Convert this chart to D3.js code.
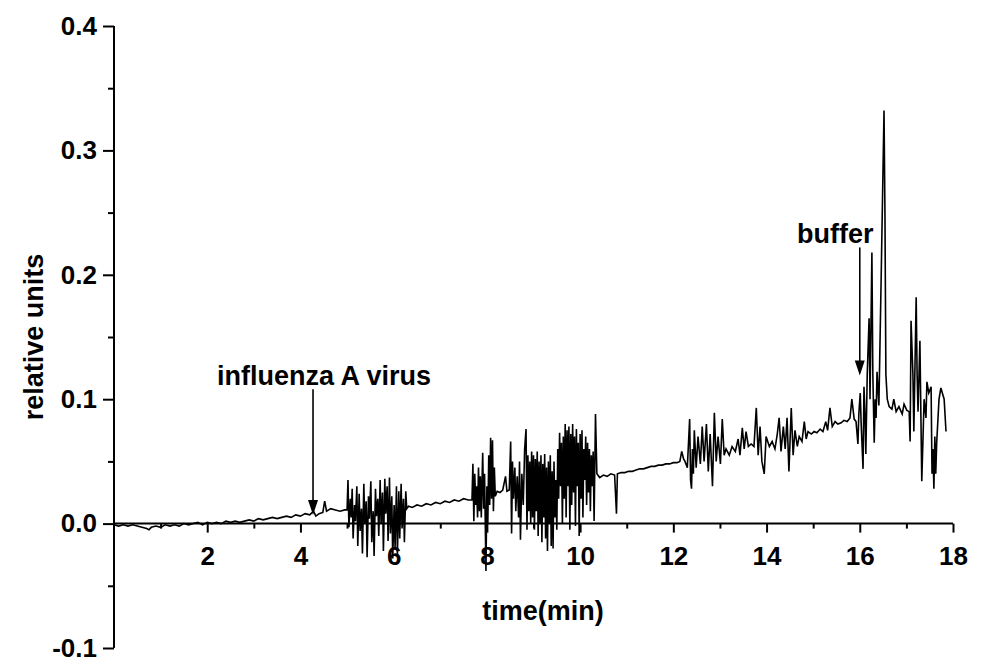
<!DOCTYPE html>
<html>
<head>
<meta charset="utf-8">
<script src="https://cdn.jsdelivr.net/npm/d3@7"></script>
<style>
  html, body { margin: 0; padding: 0; background: #fff; }
  svg { display: block; }
  text { font-family: "Liberation Sans", Arial, sans-serif; font-weight: bold; fill: #000; }
</style>
</head>
<body>
<svg id="chart" width="981" height="666"></svg>
<script>
// ---------------- data (time in min, relative units) ----------------
const baselineA = [
  [0.00,-0.001],[0.10,-0.002],[0.20,-0.001],[0.30,-0.002],[0.40,-0.001],[0.50,-0.002],[0.60,-0.003],
  [0.70,-0.004],[0.75,-0.005],[0.80,-0.003],[0.90,-0.002],[1.00,-0.003],[1.10,-0.001],[1.20,-0.002],
  [1.30,-0.001],[1.40,-0.002],[1.50,0.000],[1.60,-0.001],[1.70,0.000],[1.80,0.001],[1.90,-0.001],
  [2.00,0.001],[2.10,0.000],[2.20,0.001],[2.30,0.000],[2.40,0.002],[2.50,0.001],[2.60,0.002],
  [2.70,0.001],[2.80,0.002],[2.90,0.003],[3.00,0.002],[3.10,0.004],[3.20,0.003],[3.30,0.004],
  [3.40,0.005],[3.50,0.004],[3.60,0.005],[3.70,0.006],[3.80,0.005],[3.90,0.007],[4.00,0.006],
  [4.10,0.008],[4.20,0.007],[4.28,0.010],[4.33,0.006],[4.40,0.008],[4.48,0.009],[4.52,0.018],
  [4.56,0.010],[4.65,0.012],[4.75,0.011],[4.85,0.010],[4.95,0.011]
];
const burst1 = [
  [5.00,0.011],[5.02,0.035],[5.04,-0.003],[5.07,0.020],[5.09,0.005],[5.11,0.028],[5.13,-0.012],
  [5.16,0.015],[5.18,0.002],[5.21,0.030],[5.23,-0.018],[5.26,0.024],[5.28,-0.006],[5.31,0.012],
  [5.33,-0.024],[5.36,0.032],[5.38,0.000],[5.41,0.018],[5.43,-0.027],[5.46,0.022],[5.48,0.004],
  [5.51,0.034],[5.53,-0.015],[5.56,0.010],[5.58,-0.026],[5.61,0.028],[5.63,0.006],[5.66,0.020],
  [5.68,-0.010],[5.71,0.035],[5.73,0.000],[5.76,0.025],[5.78,-0.022],[5.81,0.036],[5.83,0.008],
  [5.86,0.030],[5.88,-0.014],[5.91,0.037],[5.93,-0.008],[5.96,0.022],[5.98,-0.028],[6.01,0.015],
  [6.03,-0.020],[6.06,0.030],[6.08,-0.025],[6.11,0.026],[6.13,-0.012],[6.16,0.032],[6.18,-0.004],
  [6.21,0.020],[6.23,-0.015],[6.26,0.026],[6.28,0.012],[6.32,0.014]
];
const baselineC = [
  [6.40,0.013],[6.50,0.015],[6.60,0.014],[6.70,0.016],[6.80,0.015],[6.90,0.017],[7.00,0.016],
  [7.10,0.018],[7.20,0.017],[7.30,0.019],[7.40,0.018],[7.50,0.020],[7.60,0.019],[7.68,0.019]
];
const burst2 = [
  [7.70,0.048],[7.72,0.002],[7.74,0.040],[7.76,0.015],[7.78,0.030],[7.80,0.005],[7.82,0.045],
  [7.84,0.010],[7.86,0.038],[7.88,0.005],[7.91,0.057],[7.93,0.012],[7.95,0.040],[7.98,-0.038],
  [8.00,0.030],[8.02,0.000],[8.04,0.055],[8.06,0.015],[8.08,0.069],[8.10,0.020],[8.12,0.067],
  [8.14,0.010],[8.16,0.045],[8.18,0.022],[8.22,0.026],[8.28,0.025],[8.34,0.027],[8.40,0.038],
  [8.43,0.026],[8.48,0.027],[8.51,0.066],[8.53,-0.008],[8.55,0.050],[8.57,0.020],[8.60,0.045],
  [8.62,0.010],[8.65,0.038],[8.68,0.005],[8.70,0.050],[8.72,-0.013],[8.75,0.040],[8.78,0.015],
  [8.81,0.060],[8.84,0.076],[8.86,-0.005],[8.88,0.055],[8.90,0.010],[8.92,0.050],[8.94,0.000],
  [8.96,0.058],[8.98,0.005],[9.00,0.055],[9.02,-0.005],[9.04,0.052],[9.06,0.010],[9.08,0.058],
  [9.10,-0.010],[9.12,0.050],[9.14,0.000],[9.16,0.055],[9.18,-0.015],[9.20,0.048],[9.22,0.005],
  [9.24,0.056],[9.26,-0.012],[9.28,0.045],[9.30,-0.022],[9.32,0.050],[9.34,0.000],[9.36,0.055],
  [9.38,-0.018],[9.40,0.042],[9.42,-0.020],[9.44,0.050],[9.46,0.005],[9.48,0.035],[9.50,-0.005],
  [9.52,0.060],[9.54,0.020],[9.56,0.073],[9.58,0.030],[9.60,0.065],[9.62,0.000],[9.64,0.070],
  [9.66,0.020],[9.68,0.080],[9.70,0.005],[9.72,0.075],[9.74,0.030],[9.76,0.078],[9.78,-0.005],
  [9.80,0.072],[9.82,0.015],[9.84,0.080],[9.86,0.025],[9.88,0.070],[9.90,-0.002],[9.92,0.076],
  [9.94,0.030],[9.96,0.065],[9.98,-0.010],[10.00,0.072],[10.02,0.020],[10.04,0.075],[10.06,0.005],
  [10.08,0.060],[10.10,0.035],[10.12,0.070],[10.14,0.015],[10.16,0.065],[10.18,0.025],[10.20,0.060],
  [10.22,0.010],[10.24,0.055],[10.26,0.030],[10.28,0.058],[10.30,0.002],[10.33,0.088],[10.36,0.040]
];
const baselineE = [
  [10.42,0.037],[10.50,0.039],[10.58,0.038],[10.66,0.040],[10.74,0.039],[10.78,0.008],[10.80,0.040],
  [10.88,0.041],[10.96,0.041],[11.04,0.042],[11.12,0.042],[11.20,0.043],[11.28,0.044],[11.36,0.044],
  [11.44,0.045],[11.52,0.046],[11.60,0.046],[11.68,0.047],[11.76,0.047],[11.84,0.048],[11.92,0.048],
  [12.00,0.049],[12.08,0.049],[12.14,0.050],[12.18,0.058],[12.22,0.052]
];
const burst3 = [
  [12.25,0.050],[12.30,0.045],[12.35,0.084],[12.37,0.035],[12.39,0.028],[12.41,0.060],[12.43,0.040],
  [12.45,0.075],[12.49,0.045],[12.53,0.070],[12.58,0.048],[12.62,0.078],[12.66,0.050],[12.71,0.080],
  [12.75,0.042],[12.79,0.072],[12.84,0.030],[12.88,0.089],[12.92,0.050],[12.96,0.070],[13.01,0.048],
  [13.05,0.084],[13.09,0.055],[13.13,0.060],[13.20,0.055],[13.26,0.062],[13.33,0.058],[13.39,0.068],
  [13.43,0.055],[13.48,0.077],[13.52,0.060],[13.56,0.074],[13.61,0.062],[13.67,0.064],[13.73,0.062],
  [13.78,0.093],[13.82,0.055],[13.86,0.078],[13.90,0.050],[13.95,0.040],[13.99,0.070],[14.06,0.062],
  [14.12,0.066],[14.18,0.060],[14.23,0.072],[14.27,0.085],[14.31,0.058],[14.36,0.078],[14.40,0.060],
  [14.44,0.085],[14.48,0.042],[14.53,0.093],[14.57,0.055],[14.61,0.075],[14.66,0.062],[14.70,0.070],
  [14.76,0.066],[14.81,0.082],[14.85,0.068],[14.89,0.074],[14.96,0.072],[15.02,0.074],[15.08,0.073],
  [15.15,0.076],[15.21,0.074],[15.27,0.082],[15.31,0.075],[15.36,0.093],[15.41,0.078],[15.47,0.082],
  [15.53,0.080],[15.60,0.081],[15.66,0.083],[15.73,0.082],[15.79,0.085],[15.83,0.100],[15.88,0.084],
  [15.92,0.082],[15.96,0.064],[15.98,0.088]
];
const bufferPeaks = [
  [16.01,0.105],[16.03,0.080],[16.07,0.044],[16.09,0.110],[16.11,0.090],[16.13,0.056],[16.16,0.120],
  [16.20,0.165],[16.22,0.100],[16.26,0.218],[16.28,0.120],[16.31,0.065],[16.33,0.100],[16.35,0.085],
  [16.37,0.122],[16.41,0.095],[16.46,0.200],[16.52,0.332],[16.54,0.250],[16.56,0.120],[16.59,0.100],
  [16.63,0.094],[16.69,0.092],[16.73,0.100],[16.78,0.090],[16.84,0.094],[16.91,0.088],[16.95,0.096],
  [17.01,0.091],[17.06,0.090],[17.08,0.066],[17.10,0.163],[17.14,0.120],[17.16,0.074],[17.21,0.182],
  [17.23,0.120],[17.25,0.090],[17.29,0.147],[17.33,0.034],[17.38,0.100],[17.42,0.085],[17.44,0.114],
  [17.48,0.105],[17.53,0.110],[17.55,0.040],[17.57,0.060],[17.59,0.028],[17.61,0.070],[17.63,0.040],
  [17.65,0.065],[17.70,0.100],[17.74,0.109],[17.81,0.100],[17.85,0.074]
];

const xMajorTicks = [2, 4, 6, 8, 10, 12, 14, 16, 18];
const xMinorTicks = [1, 3, 5, 7, 9, 11, 13, 15, 17];
const yMajorTicks = [-0.1, 0.0, 0.1, 0.2, 0.3, 0.4];
const yMinorTicks = [-0.05, 0.05, 0.15, 0.25, 0.35];
const xTitle = "time(min)";
const yTitle = "relative units";
// annotations: label, arrow time, arrow start value, arrow tip value
const annotLabels = ["influenza A virus", "buffer"];
const annotTimes = [4.27, 16.0];
const annotFrom = [0.108, 0.222];
const annotTo = [0.007, 0.119];

// ---------------- drawing ----------------
const trace = [].concat(baselineA, burst1, baselineC, burst2, baselineE, burst3, bufferPeaks);

const svg = d3.select("#chart");
const x = d3.scaleLinear().domain([0, 18]).range([114, 953]);
const y = d3.scaleLinear().domain([-0.1, 0.4]).range([648, 26]);

// y axis
const yAxisG = svg.append("g").attr("transform", `translate(${x(0)},0)`);
yAxisG.call(d3.axisLeft(y).tickValues(yMajorTicks).tickSize(11).tickPadding(6)
  .tickFormat(d => d.toFixed(1)));
svg.append("g").attr("transform", `translate(${x(0)},0)`)
  .call(d3.axisLeft(y).tickValues(yMinorTicks).tickSize(6).tickFormat(""))
  .select(".domain").remove();

// x axis at y = 0
const xAxisG = svg.append("g").attr("transform", `translate(0,${y(0)})`);
xAxisG.call(d3.axisBottom(x).tickValues(xMajorTicks).tickSize(9).tickPadding(14)
  .tickFormat(d3.format("d")));
svg.append("g").attr("transform", `translate(0,${y(0)})`)
  .call(d3.axisBottom(x).tickValues(xMinorTicks).tickSize(5).tickFormat(""))
  .select(".domain").remove();

svg.selectAll(".domain").attr("stroke", "#000").attr("stroke-width", 2);
svg.selectAll(".tick line").attr("stroke", "#000").attr("stroke-width", 2);
yAxisG.selectAll(".tick text").style("font-size", "26px").style("font-family", "Liberation Sans, Arial, sans-serif").style("font-weight", "bold");
xAxisG.selectAll(".tick text").style("font-size", "26px").style("font-family", "Liberation Sans, Arial, sans-serif").style("font-weight", "bold");
xAxisG.select(".domain").attr("d", `M${x(0)},0H${x(18)}`);
yAxisG.select(".domain").attr("d", `M0,${y(-0.1)}V${y(0.4)}`);

// data line
svg.append("path")
  .datum(trace)
  .attr("fill", "none")
  .attr("stroke", "#000")
  .attr("stroke-width", 1.6)
  .attr("stroke-linejoin", "miter")
  .attr("d", d3.line().x(d => x(d[0])).y(d => y(d[1])));

// axis titles
svg.append("text")
  .attr("x", 543).attr("y", 620)
  .attr("text-anchor", "middle")
  .style("font-size", "27px")
  .text(xTitle);
svg.append("text")
  .attr("transform", `translate(43,${y(0.15)}) rotate(-90)`)
  .attr("text-anchor", "middle")
  .style("font-size", "27px")
  .text(yTitle);

// annotations
annotLabels.forEach((lab, i) => {
  const ax = x(annotTimes[i]);
  const y0 = y(annotFrom[i]);
  const y1 = y(annotTo[i]);
  svg.append("line")
    .attr("x1", ax).attr("x2", ax).attr("y1", y0).attr("y2", y1 - 12)
    .attr("stroke", "#000").attr("stroke-width", 1.6);
  svg.append("path")
    .attr("d", `M${ax - 5},${y1 - 15}L${ax + 5},${y1 - 15}L${ax},${y1}Z`)
    .attr("fill", "#000");
});
svg.append("text")
  .attr("x", 217).attr("y", 385)
  .style("font-size", "27px")
  .text(annotLabels[0]);
svg.append("text")
  .attr("x", 797).attr("y", 243)
  .style("font-size", "27px")
  .text(annotLabels[1]);
</script>
</body>
</html>
